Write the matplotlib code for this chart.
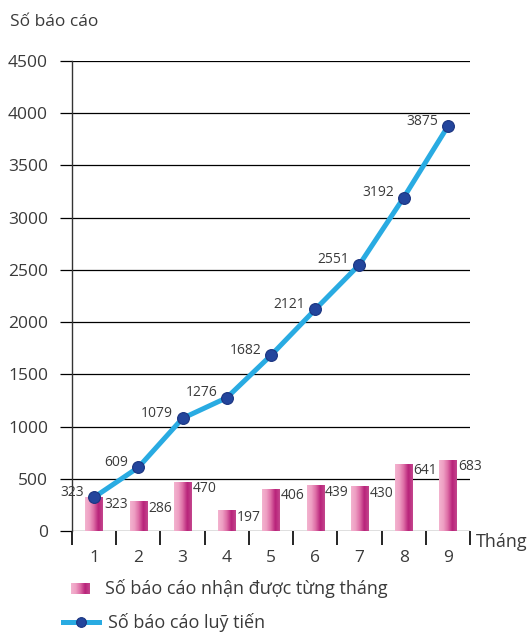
import numpy as np
import matplotlib
matplotlib.use("Agg")
import matplotlib.pyplot as plt
from matplotlib.colors import LinearSegmentedColormap
from matplotlib.lines import Line2D

plt.rcParams['font.family'] = ['Open Sans', 'DejaVu Sans']

# data
months = [1, 2, 3, 4, 5, 6, 7, 8, 9]
monthly = [323, 286, 470, 197, 406, 439, 430, 641, 683]
cumulative = [323, 609, 1079, 1276, 1682, 2121, 2551, 3192, 3875]
y_label = "Số báo cáo"
x_label = "Tháng"
legend_bar = "Số báo cáo nhận được từng tháng"
legend_line = "Số báo cáo luỹ tiến"

W, H = 530, 633
fig = plt.figure(figsize=(W / 100, H / 100), dpi=100)
fig.patch.set_facecolor("white")

# axes placed in pixel coords
ax_l, ax_r, ax_b, ax_t = 72, 470, 531, 61
ax = fig.add_axes([ax_l / W, 1 - ax_b / H, (ax_r - ax_l) / W, (ax_b - ax_t) / H])

pink = LinearSegmentedColormap.from_list(
    "pinkbar", ["#f3b3cf", "#ee9fc3", "#dc6aa4", "#b8237a", "#c4468d"])
grad = np.linspace(0, 1, 64).reshape(1, -1)

bars = ax.bar(months, monthly, width=0.39, color="none", edgecolor="none", zorder=2)
for b in bars:
    im = ax.imshow(grad, cmap=pink, aspect="auto", zorder=2,
                   extent=(b.get_x(), b.get_x() + b.get_width(), 0, b.get_height()))
    im.set_clip_path(b)

ax.plot(months, cumulative, color="#29abe2", lw=3.6, zorder=3,
        marker="o", markersize=8.5, markerfacecolor="#23459c",
        markeredgecolor="#1b3480", markeredgewidth=0.8, solid_capstyle="round")

txt_col = "#3a3a3a"
for m, v in zip(months, monthly):
    ax.annotate(str(v), (m + 0.195, v), xytext=(1, -5), textcoords="offset points",
                ha="left", va="center", fontsize=10, color=txt_col, zorder=4)
for m, v in zip(months, cumulative):
    ax.annotate(str(v), (m, v), xytext=(-7, 3.5), textcoords="offset points",
                ha="right", va="center", fontsize=10, color=txt_col, zorder=4)

ax.set_xlim(0.5, 9.5)
ax.set_ylim(0, 4500)
ax.set_yticks(np.arange(0, 4501, 500))
ax.yaxis.grid(True, color="black", lw=0.9)
ax.set_axisbelow(True)
ax.tick_params(axis="y", length=8.6, width=0.9, pad=8.6, labelsize=12.5,
               colors="black", labelcolor=txt_col)

ax.set_xticks(np.arange(0.5, 9.6, 1))
ax.set_xticklabels([])
ax.set_xticks(months, minor=True)
ax.set_xticklabels([str(m) for m in months], minor=True)
ax.tick_params(axis="x", which="major", length=10, width=1.2, direction="out")
ax.tick_params(axis="x", which="minor", length=0, pad=14, labelsize=12.5, labelcolor=txt_col)

for s in ["top", "right", "bottom"]:
    ax.spines[s].set_visible(False)
ax.spines["left"].set_color("#333333")
ax.spines["left"].set_linewidth(1.0)

fig.text(10 / W, 1 - 22 / H, y_label, fontsize=12.5, ha="left", va="center", color=txt_col)
fig.text(476 / W, 1 - 542 / H, x_label, fontsize=13, ha="left", va="center", color=txt_col)

# legend
lax = fig.add_axes([71 / W, 1 - 594 / H, 19 / W, 11 / H])
lax.imshow(grad, cmap=pink, aspect="auto")
lax.axis("off")
fig.text(105 / W, 1 - 589 / H, legend_bar, fontsize=13, ha="left", va="center", color=txt_col)
fig.add_artist(Line2D([63 / W, 99 / W], [1 - 622 / H, 1 - 622 / H], transform=fig.transFigure,
                      color="#29abe2", lw=3.6))
fig.add_artist(Line2D([81 / W], [1 - 622 / H], transform=fig.transFigure, marker="o",
                      markersize=7, markerfacecolor="#23459c", markeredgecolor="#1b3480",
                      markeredgewidth=0.8))
fig.text(108 / W, 1 - 622 / H, legend_line, fontsize=13, ha="left", va="center", color=txt_col)

fig.savefig("out.png", dpi=100)
